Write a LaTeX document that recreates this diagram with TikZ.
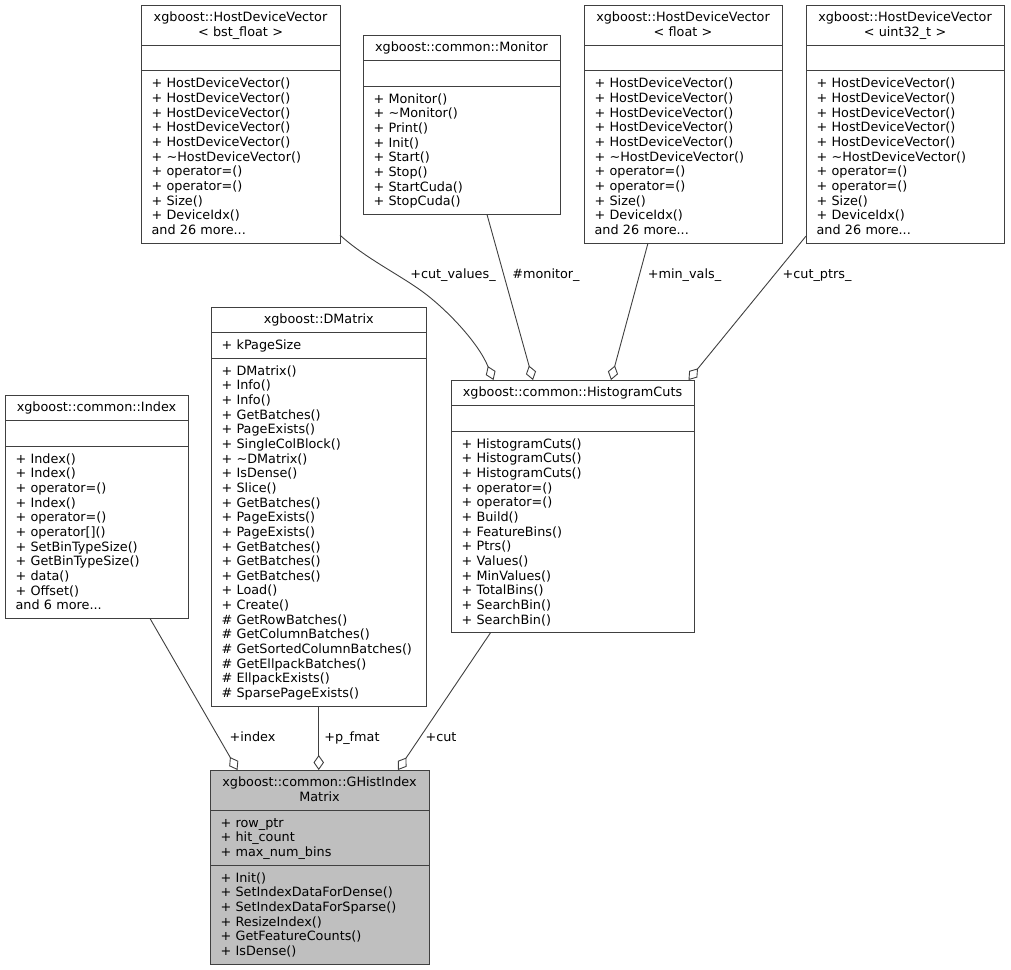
\documentclass[tikz,border=0pt]{standalone}
\usepackage{fontspec}
\setmainfont{DejaVu Sans}
\usetikzlibrary{arrows.meta}
\definecolor{grigiobordo}{RGB}{64,64,64}
\definecolor{grigioevidenza}{RGB}{191,191,191}

\begin{document}
\begin{tikzpicture}[
  x=1pt, y=-1pt,
  font=\fontsize{12.8}{14.65}\selectfont,
  classe/.style={draw=grigiobordo, line width=1pt, fill=white, inner sep=0pt, outer sep=0pt, anchor=north west},
  divisorio/.style={draw=grigiobordo, line width=1pt},
  titolo/.style={inner sep=0pt, anchor=base, align=center},
  membri/.style={inner sep=0pt, anchor=base west, align=left},
  aggregazione/.style={draw=grigiobordo, line width=0.9pt, -{Diamond[open, length=15pt, width=10.5pt, line width=0.9pt]}},
  etichetta/.style={inner sep=0pt, anchor=base}
]

%--------------------------------------------------------------
% Sfondo e cornice della pagina
%--------------------------------------------------------------
\fill[white] (0,0) rectangle (1011,969);
\useasboundingbox (0,0) rectangle (1011,969);

%--------------------------------------------------------------
% xgboost::HostDeviceVector< bst_float >
%--------------------------------------------------------------
\node[classe, minimum width=199pt, minimum height=238.1pt] (hdvbst) at (141,5) {};
\draw[divisorio] (hdvbst.west |- 0,45.3) -- (hdvbst.east |- 0,45.3);
\draw[divisorio] (hdvbst.west |- 0,70.95) -- (hdvbst.east |- 0,70.95);
\node[titolo, text width=199pt] (hdvbst-titolo) at (240.5,21.9) {xgboost::HostDeviceVector\\< bst\_float >};
\node[membri, text width=178pt] (hdvbst-metodi) at (151.4,87.85) {+ HostDeviceVector()\\+ HostDeviceVector()\\+ HostDeviceVector()\\+ HostDeviceVector()\\+ HostDeviceVector()\\+ \textasciitilde HostDeviceVector()\\+ operator=()\\+ operator=()\\+ Size()\\+ DeviceIdx()\\and 26 more...};

%--------------------------------------------------------------
% xgboost::common::Monitor
%--------------------------------------------------------------
\node[classe, minimum width=197pt, minimum height=179.5pt] (monitor) at (363,35) {};
\draw[divisorio] (monitor.west |- 0,60.65) -- (monitor.east |- 0,60.65);
\draw[divisorio] (monitor.west |- 0,86.3) -- (monitor.east |- 0,86.3);
\node[titolo, text width=197pt] (monitor-titolo) at (461.5,51.9) {xgboost::common::Monitor};
\node[membri, text width=176pt] (monitor-metodi) at (373.4,103.2) {+ Monitor()\\+ \textasciitilde Monitor()\\+ Print()\\+ Init()\\+ Start()\\+ Stop()\\+ StartCuda()\\+ StopCuda()};

%--------------------------------------------------------------
% xgboost::HostDeviceVector< float >
%--------------------------------------------------------------
\node[classe, minimum width=198pt, minimum height=238.1pt] (hdvfloat) at (584,5) {};
\draw[divisorio] (hdvfloat.west |- 0,45.3) -- (hdvfloat.east |- 0,45.3);
\draw[divisorio] (hdvfloat.west |- 0,70.95) -- (hdvfloat.east |- 0,70.95);
\node[titolo, text width=198pt] (hdvfloat-titolo) at (683,21.9) {xgboost::HostDeviceVector\\< float >};
\node[membri, text width=177pt] (hdvfloat-metodi) at (594.4,87.85) {+ HostDeviceVector()\\+ HostDeviceVector()\\+ HostDeviceVector()\\+ HostDeviceVector()\\+ HostDeviceVector()\\+ \textasciitilde HostDeviceVector()\\+ operator=()\\+ operator=()\\+ Size()\\+ DeviceIdx()\\and 26 more...};

%--------------------------------------------------------------
% xgboost::HostDeviceVector< uint32_t >
%--------------------------------------------------------------
\node[classe, minimum width=198pt, minimum height=238.1pt] (hdvuint) at (806,5) {};
\draw[divisorio] (hdvuint.west |- 0,45.3) -- (hdvuint.east |- 0,45.3);
\draw[divisorio] (hdvuint.west |- 0,70.95) -- (hdvuint.east |- 0,70.95);
\node[titolo, text width=198pt] (hdvuint-titolo) at (905,21.9) {xgboost::HostDeviceVector\\< uint32\_t >};
\node[membri, text width=177pt] (hdvuint-metodi) at (816.4,87.85) {+ HostDeviceVector()\\+ HostDeviceVector()\\+ HostDeviceVector()\\+ HostDeviceVector()\\+ HostDeviceVector()\\+ \textasciitilde HostDeviceVector()\\+ operator=()\\+ operator=()\\+ Size()\\+ DeviceIdx()\\and 26 more...};

%--------------------------------------------------------------
% xgboost::common::Index
%--------------------------------------------------------------
\node[classe, minimum width=183pt, minimum height=223.45pt] (index) at (5,395) {};
\draw[divisorio] (index.west |- 0,420.65) -- (index.east |- 0,420.65);
\draw[divisorio] (index.west |- 0,446.3) -- (index.east |- 0,446.3);
\node[titolo, text width=183pt] (index-titolo) at (96.5,411.9) {xgboost::common::Index};
\node[membri, text width=162pt] (index-metodi) at (15.4,463.2) {+ Index()\\+ Index()\\+ operator=()\\+ Index()\\+ operator=()\\+ operator[]()\\+ SetBinTypeSize()\\+ GetBinTypeSize()\\+ data()\\+ Offset()\\and 6 more...};

%--------------------------------------------------------------
% xgboost::DMatrix
%--------------------------------------------------------------
\node[classe, minimum width=215.5pt, minimum height=399.25pt] (dmatrix) at (211,307) {};
\draw[divisorio] (dmatrix.west |- 0,332.65) -- (dmatrix.east |- 0,332.65);
\draw[divisorio] (dmatrix.west |- 0,358.3) -- (dmatrix.east |- 0,358.3);
\node[titolo, text width=215.5pt] (dmatrix-titolo) at (318.75,323.9) {xgboost::DMatrix};
\node[membri, text width=195pt] (dmatrix-attributi) at (221.4,349.55) {+ kPageSize};
\node[membri, text width=195pt] (dmatrix-metodi) at (221.4,375.2) {+ DMatrix()\\+ Info()\\+ Info()\\+ GetBatches()\\+ PageExists()\\+ SingleColBlock()\\+ \textasciitilde DMatrix()\\+ IsDense()\\+ Slice()\\+ GetBatches()\\+ PageExists()\\+ PageExists()\\+ GetBatches()\\+ GetBatches()\\+ GetBatches()\\+ Load()\\+ Create()\\\# GetRowBatches()\\\# GetColumnBatches()\\\# GetSortedColumnBatches()\\\# GetEllpackBatches()\\\# EllpackExists()\\\# SparsePageExists()};

%--------------------------------------------------------------
% xgboost::common::HistogramCuts
%--------------------------------------------------------------
\node[classe, minimum width=243pt, minimum height=252.75pt] (hcuts) at (451,380) {};
\draw[divisorio] (hcuts.west |- 0,405.65) -- (hcuts.east |- 0,405.65);
\draw[divisorio] (hcuts.west |- 0,431.3) -- (hcuts.east |- 0,431.3);
\node[titolo, text width=243pt] (hcuts-titolo) at (572.5,396.9) {xgboost::common::HistogramCuts};
\node[membri, text width=222pt] (hcuts-metodi) at (461.4,448.2) {+ HistogramCuts()\\+ HistogramCuts()\\+ HistogramCuts()\\+ operator=()\\+ operator=()\\+ Build()\\+ FeatureBins()\\+ Ptrs()\\+ Values()\\+ MinValues()\\+ TotalBins()\\+ SearchBin()\\+ SearchBin()};

%--------------------------------------------------------------
% xgboost::common::GHistIndexMatrix (classe evidenziata)
%--------------------------------------------------------------
\node[classe, fill=grigioevidenza, minimum width=219pt, minimum height=194.15pt] (ghim) at (210,770) {};
\draw[divisorio] (ghim.west |- 0,810.3) -- (ghim.east |- 0,810.3);
\draw[divisorio] (ghim.west |- 0,865.25) -- (ghim.east |- 0,865.25);
\node[titolo, text width=219pt] (ghim-titolo) at (319.5,786.9) {xgboost::common::GHistIndex\\Matrix};
\node[membri, text width=198pt] (ghim-attributi) at (220.4,827.2) {+ row\_ptr\\+ hit\_count\\+ max\_num\_bins};
\node[membri, text width=198pt] (ghim-metodi) at (220.4,882.15) {+ Init()\\+ SetIndexDataForDense()\\+ SetIndexDataForSparse()\\+ ResizeIndex()\\+ GetFeatureCounts()\\+ IsDense()};

%--------------------------------------------------------------
% Aggregazioni verso HistogramCuts
%--------------------------------------------------------------
\draw[aggregazione] ([yshift=8pt]hdvbst.south east) .. controls (365,258) and (400,275) .. (423,292) .. controls (446,309) and (478,342) .. ([xshift=-79pt]hcuts.north);
\draw[aggregazione] ([xshift=25.5pt]monitor.south) -- ([xshift=-39.5pt]hcuts.north);
\draw[aggregazione] ([xshift=-35pt]hdvfloat.south) -- ([xshift=38.5pt]hcuts.north);
\draw[aggregazione] ([yshift=7pt]hdvuint.south west) -- ([xshift=116pt]hcuts.north);
\node[etichetta] (l-cutvalues) at (453,278.5) {+cut\_values\_};
\node[etichetta] (l-monitor) at (546,278.5) {\#monitor\_};
\node[etichetta] (l-minvals) at (684.5,278.5) {+min\_vals\_};
\node[etichetta] (l-cutptrs) at (817,278.5) {+cut\_ptrs\_};

%--------------------------------------------------------------
% Aggregazioni verso GHistIndexMatrix
%--------------------------------------------------------------
\draw[aggregazione] ([xshift=53.5pt]index.south) -- ([xshift=-82pt]ghim.north);
\draw[aggregazione] (dmatrix.south) -- (dmatrix.south |- ghim.north);
\draw[aggregazione] ([xshift=-82pt]hcuts.south) -- ([xshift=78.5pt]ghim.north);
\node[etichetta] (l-index) at (252.5,741.5) {+index};
\node[etichetta] (l-pfmat) at (352,741.5) {+p\_fmat};
\node[etichetta] (l-cut) at (441,741.5) {+cut};

\end{tikzpicture}
\end{document}
